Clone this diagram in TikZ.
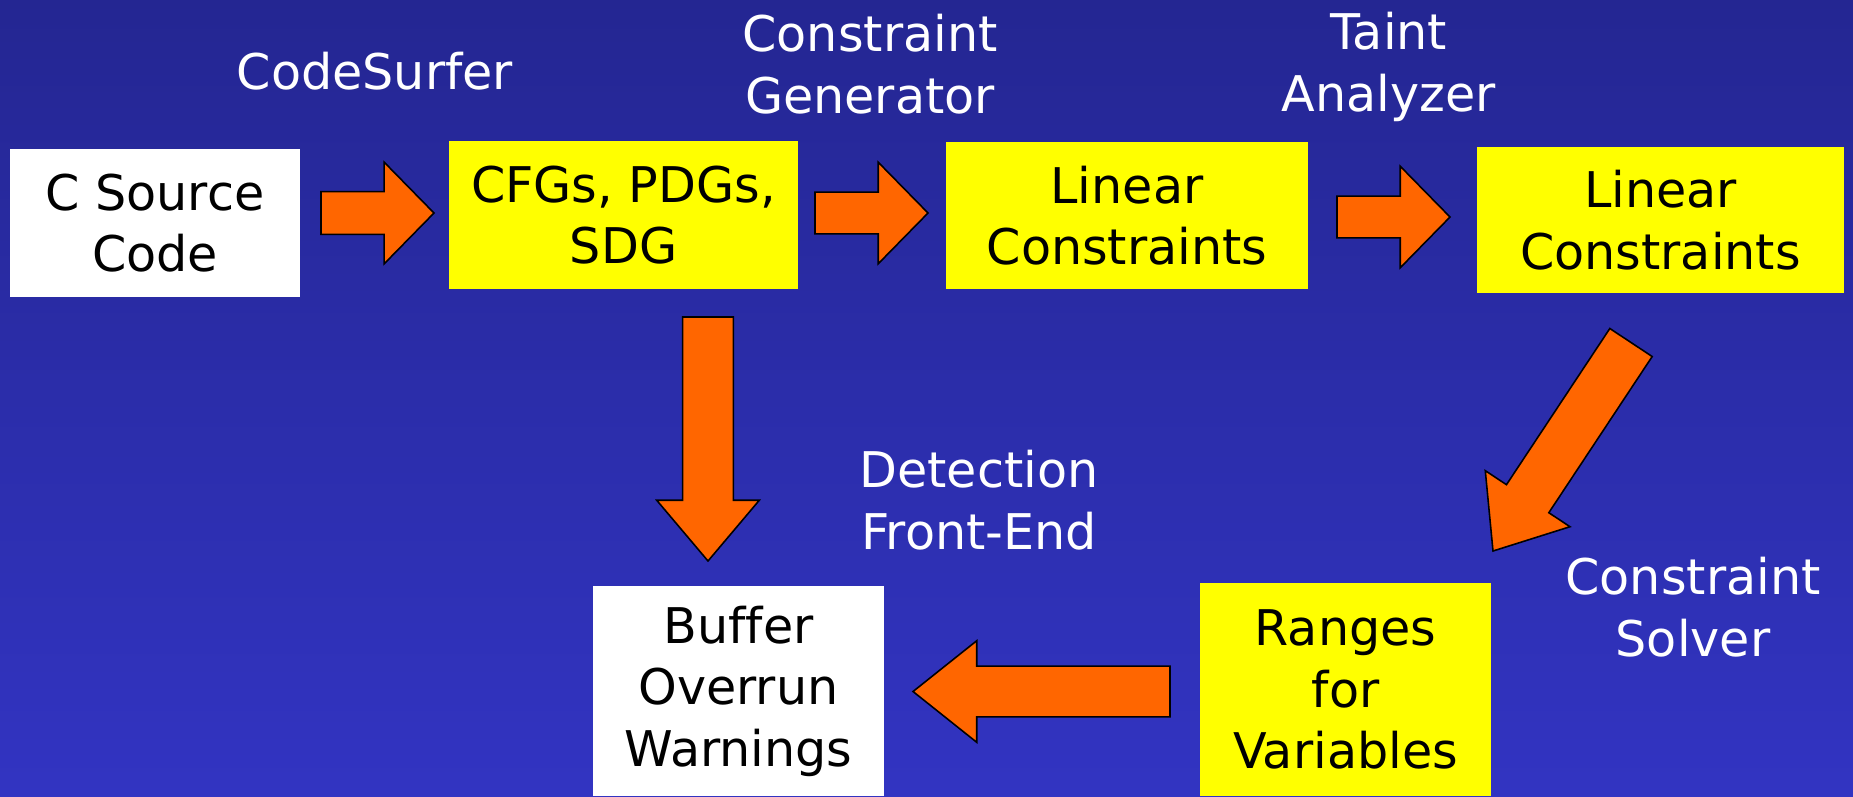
\documentclass[tikz,border=0pt]{standalone}
\usepackage{fontspec}
\setmainfont[Ligatures=NoCommon]{DejaVu Sans}
\usepackage{xcolor}
\definecolor{SlideTop}{RGB}{36,38,146}
\definecolor{SlideBottom}{RGB}{50,52,194}
\definecolor{BoxYellow}{RGB}{255,255,0}
\definecolor{ArrowOrange}{RGB}{255,102,0}
\usepackage{tikz}
\usetikzlibrary{calc}
\tikzset{
  % Stage boxes
  stagebox/.style={
    rectangle, fill=white, align=center,
    inner sep=0pt, font=\fontsize{28}{35}\selectfont
  },
  stagebox yellow/.style={stagebox, fill=BoxYellow},
  % Tool labels
  toollabel/.style={text=white, align=center, font=\fontsize{28}{35}\selectfont},
  % Block arrows
  blockarrow/.style={fill=ArrowOrange, draw=black, line width=0.9pt, line join=miter},
}
% block arrow: from, to, half shaft, half head, head length (px)
\newcommand{\blockarr}[5]{%
  \coordinate (hb) at ($(#2)!#5*0.5669pt!(#1)$);
  \draw[blockarrow] ($(#1)!#3*0.5669pt!90:(#2)$) -- ($(hb)!#3*0.5669pt!90:(#2)$)
    -- ($(hb)!#4*0.5669pt!90:(#2)$) -- (#2) -- ($(hb)!#4*0.5669pt!-90:(#2)$)
    -- ($(hb)!#3*0.5669pt!-90:(#2)$) -- ($(#1)!#3*0.5669pt!-90:(#2)$) -- cycle;
}

\begin{document}
\begin{tikzpicture}[x=0.02cm, y=-0.02cm]
  \useasboundingbox (0,0) rectangle (1853,796);
  \shade[top color=SlideTop, bottom color=SlideBottom] (0,0) rectangle (1853,796);

  % Boxes
  \node[stagebox, minimum width=5.8cm, minimum height=2.96cm] (src) at (155,223) {C Source\\Code};
  \node[stagebox yellow, minimum width=6.98cm, minimum height=2.96cm] (cfg) at (623.5,215) {CFGs, PDGs,\\SDG};
  \node[stagebox yellow, minimum width=7.24cm, minimum height=2.94cm] (lin) at (1127,215.5) {Linear\\Constraints};
  \node[stagebox yellow, minimum width=7.34cm, minimum height=2.92cm] (taint) at (1660.5,220) {Linear\\Constraints};
  \node[stagebox yellow, minimum width=5.82cm, minimum height=4.26cm] (rng) at (1345.5,689.5) {Ranges\\for\\Variables};
  \node[stagebox, minimum width=5.82cm, minimum height=4.2cm] (warn) at (738.5,691) {Buffer\\Overrun\\Warnings};

  % Tools
  \node[toollabel] (surfer) at (375,71) {CodeSurfer};
  \node[toollabel] (gen) at (870,64) {Constraint\\Generator};
  \node[toollabel] (analyzer) at (1389,67) {Taint\\Analyzer};
  \node[toollabel] (front) at (979,500) {Detection\\Front-End};
  \node[toollabel] (solver) at (1693,607) {Constraint\\Solver};

  % Arrows
  \coordinate (a1s) at (321,213);   \coordinate (a1e) at (434,213);
  \coordinate (a2s) at (815,213);   \coordinate (a2e) at (928,213);
  \coordinate (a3s) at (1337,217);  \coordinate (a3e) at (1450,217);
  \coordinate (a4s) at (708,317);   \coordinate (a4e) at (708,561);
  \coordinate (a5s) at (1631,342.5);\coordinate (a5e) at (1493,551);
  \coordinate (a6s) at (1170,691.5);\coordinate (a6e) at (913,691.5);
  \blockarr{a1s}{a1e}{21.5}{51}{50}
  \blockarr{a2s}{a2e}{21}{51}{50}
  \blockarr{a3s}{a3e}{21}{51}{50}
  \blockarr{a4s}{a4e}{25.5}{51.5}{61}
  \blockarr{a5s}{a5e}{25.5}{51}{63}
  \blockarr{a6s}{a6e}{25.5}{51}{64}
\end{tikzpicture}
\end{document}
